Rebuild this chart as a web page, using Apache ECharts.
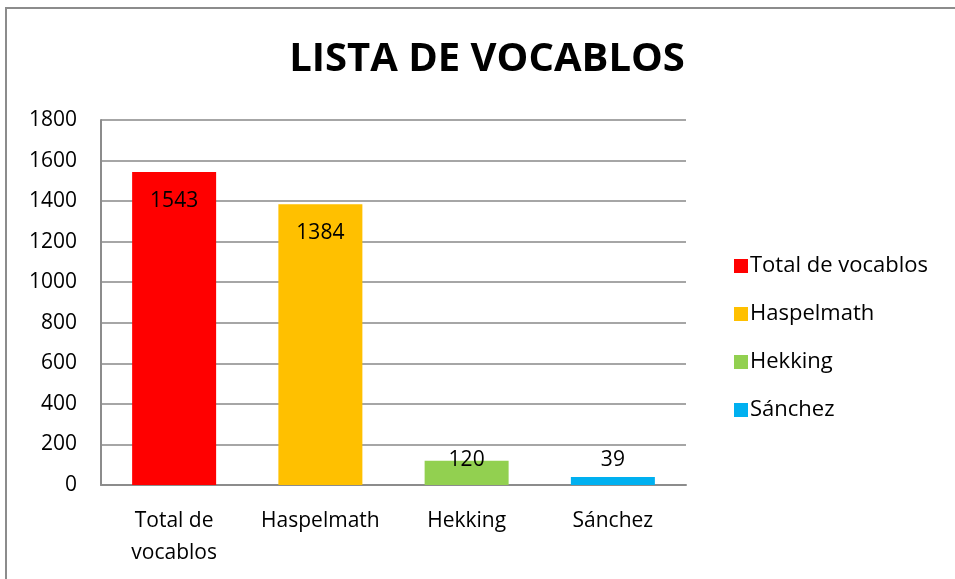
<!DOCTYPE html>
<html>
<head>
<meta charset="utf-8">
<script src="https://cdn.jsdelivr.net/npm/echarts@6/dist/echarts.min.js"></script>
<style>
  html, body { margin: 0; padding: 0; background: #fff; }
  #chart { width: 955px; height: 579px; }
</style>
</head>
<body>
<div id="chart"></div>
<script>
// 数据
var categories = ['Total de vocablos', 'Haspelmath', 'Hekking', 'Sánchez'];
var axisLabels = ['Total de\nvocablos', 'Haspelmath', 'Hekking', 'Sánchez'];
var values = [1543, 1384, 120, 39];
var colors = ['#ff0000', '#ffc000', '#92d050', '#00b0f0'];

var font = 'Open Sans';
var chart = echarts.init(document.getElementById('chart'));

// 每个系列只在自己的类目上有值，图例才会有四项
var series = categories.map(function (name, i) {
  var d = values.map(function (v, j) { return j === i ? v : '-'; });
  var small = values[i] < 300;
  return {
    name: name,
    type: 'bar',
    stack: 'all',
    barWidth: 84,
    color: colors[i],
    data: d,
    label: {
      show: true,
      position: small ? 'top' : 'insideTop',
      distance: small ? (values[i] < 80 ? 7 : -10) : 18,
      color: '#000',
      fontFamily: font,
      fontSize: 21
    }
  };
});

var option = {
  animation: false,
  title: {
    text: 'LISTA DE VOCABLOS',
    left: 482,
    textAlign: 'center',
    top: 35,
    textStyle: { fontFamily: font, fontWeight: 'bold', fontSize: 40, color: '#000' }
  },
  legend: {
    orient: 'vertical',
    left: 729,
    top: 250,
    itemWidth: 14,
    itemHeight: 14,
    itemGap: 26,
    icon: 'rect',
    textStyle: { fontFamily: font, fontSize: 22, color: '#000', padding: [0, 0, 0, -3] },
    data: categories
  },
  grid: { left: 101, right: 269, top: 120, bottom: 94 },
  xAxis: {
    type: 'category',
    data: axisLabels,
    axisTick: { show: false },
    axisLine: { lineStyle: { color: '#8c8c8c', width: 2 } },
    axisLabel: { color: '#000', fontFamily: font, fontSize: 21, margin: 20, lineHeight: 32, interval: 0 }
  },
  yAxis: {
    type: 'value',
    min: 0,
    max: 1800,
    interval: 200,
    axisLine: { show: true, lineStyle: { color: '#8c8c8c', width: 2 } },
    axisTick: { show: false },
    axisLabel: {
      color: '#000', fontFamily: font, fontSize: 21, margin: 24,
      formatter: function (v) { return String(v); }
    },
    splitLine: { lineStyle: { color: '#a6a6a6', width: 2 } }
  },
  graphic: [{
    type: 'rect',
    shape: { x: 6, y: 8, width: 1000, height: 700 },
    style: { fill: 'none', stroke: '#8c8c8c', lineWidth: 2 },
    silent: true
  }],
  series: series
};

chart.setOption(option);
</script>
</body>
</html>
